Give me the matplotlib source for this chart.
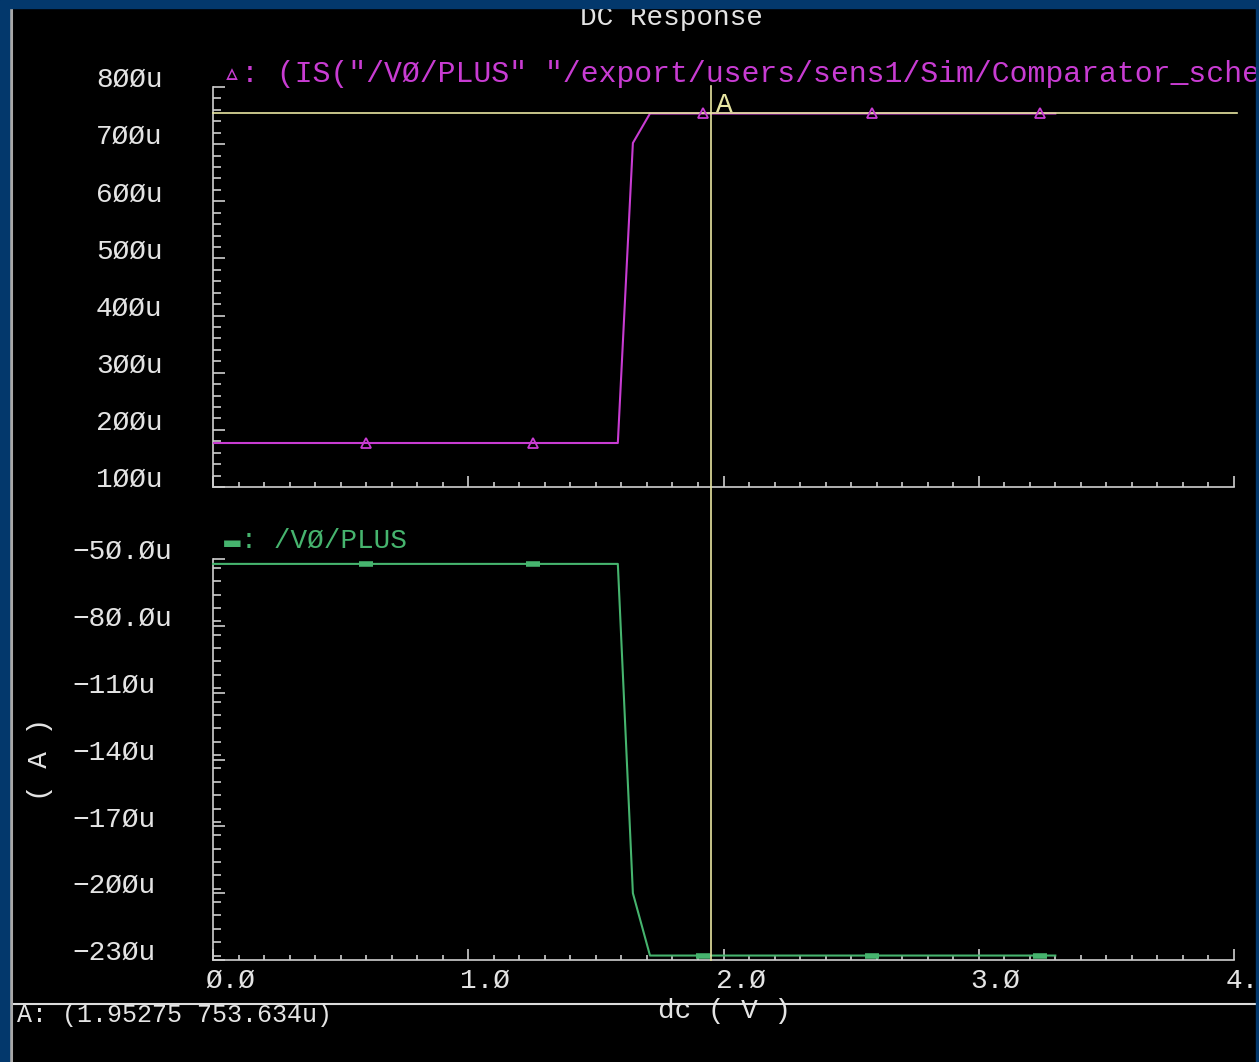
import matplotlib
matplotlib.use("Agg")
import matplotlib.pyplot as plt
from matplotlib.patches import Rectangle
from matplotlib.lines import Line2D
from matplotlib.ticker import MultipleLocator
from matplotlib.transforms import blended_transform_factory, ScaledTranslation

# dc sweep (V) and the two currents through V0 (uA)
dc = [0.0, 1.586, 1.645, 1.712, 3.30]
is_plus = [177.0, 177.0, 702.0, 753.634, 753.634]
i_plus = [-52.2, -52.2, -200.0, -228.0, -228.0]

# symbol positions along the traces
mark_dc = [0.60, 1.253, 1.919, 2.58, 3.24]
mark_is = [177.0, 177.0, 753.634, 753.634, 753.634]
mark_i = [-52.2, -52.2, -228.0, -228.0, -228.0]

# cursor A
cursor_dc = 1.95275
cursor_is = 753.634

x_ticks = [0, 1, 2, 3, 4]
x_labels = ["Ø.Ø", "1.Ø", "2.Ø", "3.Ø", "4.Ø"]
top_ticks = [100, 200, 300, 400, 500, 600, 700, 800]
top_labels = ["1ØØu", "2ØØu", "3ØØu", "4ØØu", "5ØØu", "6ØØu", "7ØØu", "8ØØu"]
bot_ticks = [-230, -200, -170, -140, -110, -80, -50]
bot_labels = ["−23Øu", "−2ØØu", "−17Øu", "−14Øu", "−11Øu", "−8Ø.Øu", "−5Ø.Øu"]

W, H = 1259, 1062
BLUE = "#03386c"
AXIS = "#cfcfcf"
TEXT = "#e4e4e4"
MAGENTA = "#c83cd2"
GREEN = "#46b46e"
YELLOW = "#e8e6a2"

plt.rcParams["font.family"] = ["Liberation Mono", "DejaVu Sans Mono", "DejaVu Sans"]
plt.rcParams["font.size"] = 20


def fx(px):
    return px / W


def fy(py):
    return 1 - py / H


fig = plt.figure(figsize=(W / 100, H / 100), dpi=100, facecolor="black")
ax1 = fig.add_axes([fx(213), fy(487), (1234 - 213) / W, 400 / H])
ax2 = fig.add_axes([fx(213), fy(960), (1234 - 213) / W, 401 / H])


def style(ax, ypad):
    ax.set_facecolor("black")
    for s in ("top", "right"):
        ax.spines[s].set_visible(False)
    for s in ("left", "bottom"):
        ax.spines[s].set_color(AXIS)
        ax.spines[s].set_linewidth(1.2)
    ax.set_xlim(0, 4)
    ax.set_xticks(x_ticks)
    ax.xaxis.set_minor_locator(MultipleLocator(0.1))
    ax.tick_params(axis="x", which="major", direction="in", length=8, width=1.2, color=AXIS)
    ax.tick_params(axis="x", which="minor", direction="in", length=3.6, width=1.2, color=AXIS)
    ax.tick_params(axis="y", which="major", direction="in", length=8.5, width=1.2,
                   color=AXIS, pad=ypad, labelcolor=TEXT)
    ax.tick_params(axis="y", which="minor", direction="in", length=5.5, width=1.2, color=AXIS)
    for lbl in ax.get_yticklabels():
        lbl.set_ha("left")
        lbl.set_va("baseline")


# upper panel: IS("/V0/PLUS" ...)
ax1.set_ylim(100, 800)
ax1.set_yticks(top_ticks, labels=top_labels)
ax1.yaxis.set_minor_locator(MultipleLocator(20))
style(ax1, (213 - 96) / 1.389)
ax1.tick_params(axis="x", labelbottom=False)
ax1.plot(dc, is_plus, color=MAGENTA, lw=1.5, zorder=3)
ax1.axhline(cursor_is, xmax=1.003, color=YELLOW, lw=1.2, zorder=3.5, clip_on=False)
ax1.plot(mark_dc, mark_is, ls="none", marker="^", ms=7, mfc="none",
         mec=MAGENTA, mew=1.3, zorder=4)
ax1.annotate("A", xy=(cursor_dc, cursor_is), xytext=(5, 1), textcoords="offset pixels",
             ha="left", va="baseline", color=YELLOW, fontsize=20)

# lower panel: /V0/PLUS
ax2.set_ylim(-230, -50)
ax2.set_yticks(bot_ticks, labels=bot_labels)
ax2.yaxis.set_minor_locator(MultipleLocator(6))
style(ax2, (213 - 72) / 1.389)
ax2.set_xticks(x_ticks, labels=x_labels)
ax2.tick_params(axis="x", pad=5.8, labelcolor=TEXT)
shift = ScaledTranslation(-8 / 100, 0, fig.dpi_scale_trans)
for lbl in ax2.get_xticklabels():
    lbl.set_ha("left")
    lbl.set_transform(lbl.get_transform() + shift)
ax2.plot(dc, i_plus, color=GREEN, lw=1.5, zorder=3, clip_on=False)
ax2.plot(mark_dc, mark_i, ls="none", marker="_", ms=10, mew=4, color=GREEN,
         zorder=4, clip_on=False)

# vertical cursor runs through both panels
trans = blended_transform_factory(ax2.transData, fig.transFigure)
fig.add_artist(Line2D([cursor_dc, cursor_dc], [fy(86), fy(960)], transform=trans,
                      color=YELLOW, lw=1.2, zorder=5))

# trace names
fig.text(fx(223), fy(82), "▵: (IS(\"/VØ/PLUS\" \"/export/users/sens1/Sim/Comparator_schematic/psf\")",
         color=MAGENTA, fontsize=21.5, ha="left", va="baseline")
fig.text(fx(224), fy(548), "▬: /VØ/PLUS", color=GREEN, fontsize=20, ha="left", va="baseline")

# title, axis names and cursor readout
fig.text(fx(671), fy(25), "DC Response", color=TEXT, fontsize=20, ha="center", va="baseline")
fig.text(fx(40), fy(759), "( A )", color=TEXT, fontsize=20, rotation=90,
         ha="center", va="center")
fig.add_artist(Line2D([fx(13), fx(1256)], [fy(1004), fy(1004)], color="#dcdcdc", lw=1.5))
fig.text(fx(724), fy(1018), "dc ( V )", color=TEXT, fontsize=20, ha="center", va="baseline")
fig.text(fx(17), fy(1022), f"A: ({cursor_dc:g} {cursor_is:g}u)", color=TEXT,
         fontsize=18, ha="left", va="baseline")

# window frame
fig.add_artist(Line2D([fx(11), fx(11)], [0, fy(8)], color="#a8a8a8", lw=2.2, zorder=9))
fig.add_artist(Rectangle((0, fy(8)), 1, 8 / H, transform=fig.transFigure,
                         color=BLUE, zorder=10))
fig.add_artist(Rectangle((0, 0), 9 / W, 1, transform=fig.transFigure, color=BLUE, zorder=10))
fig.add_artist(Rectangle((fx(1256), 0), 3 / W, 1, transform=fig.transFigure,
                         color=BLUE, zorder=10))

fig.savefig("out.png", dpi=100, facecolor="black")
